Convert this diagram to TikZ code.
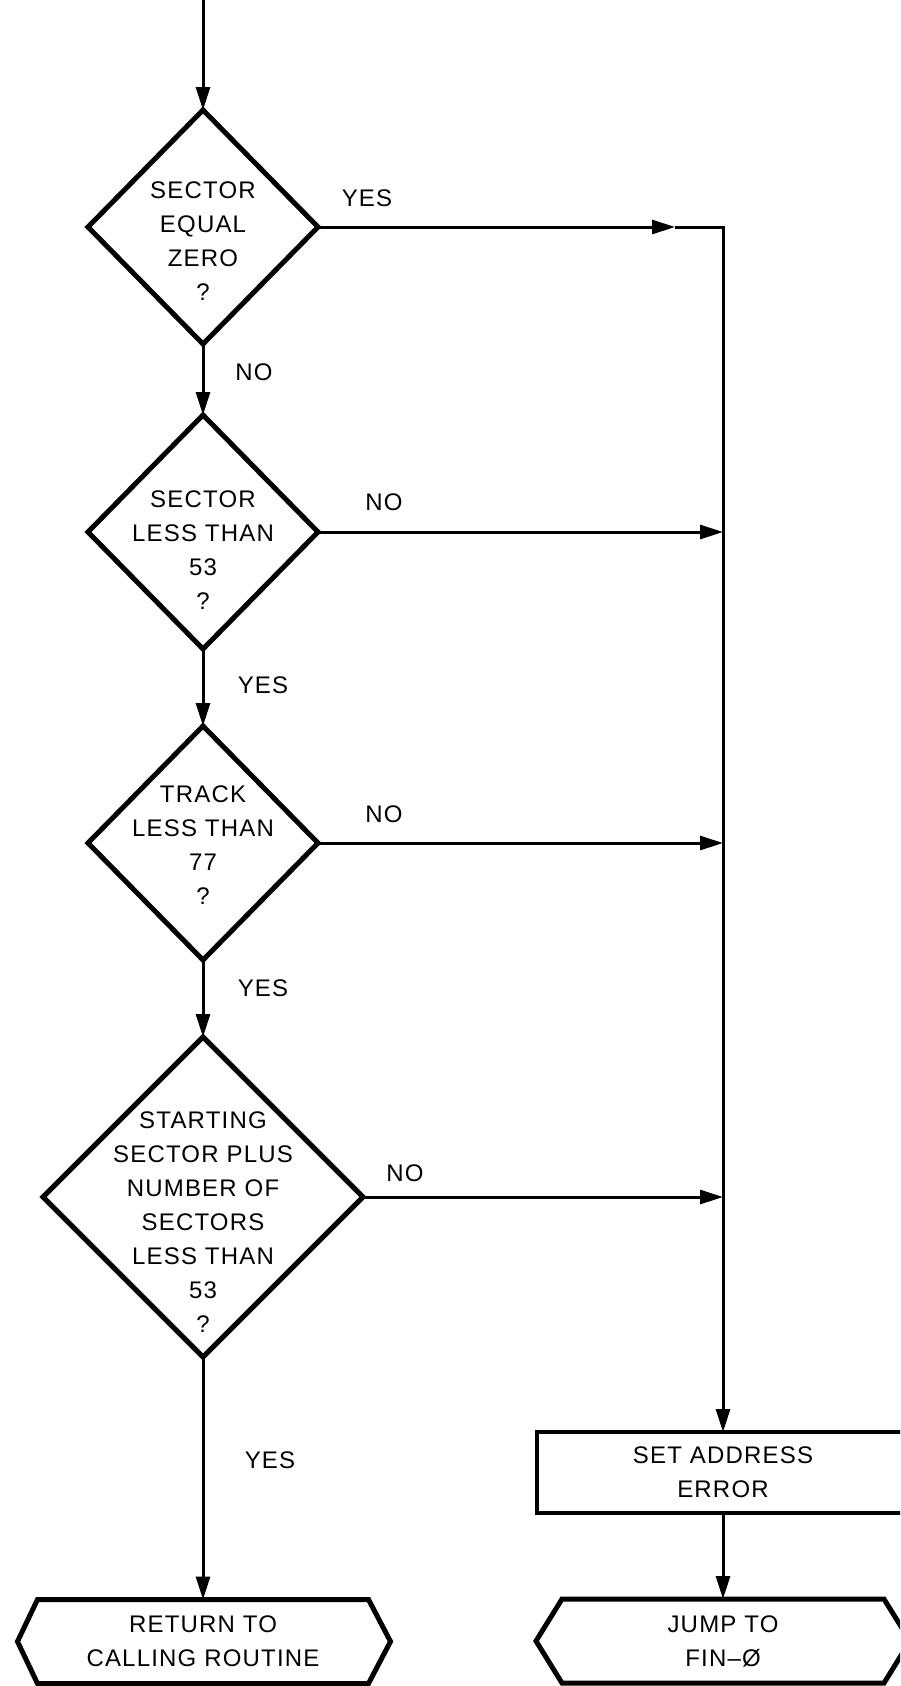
\documentclass[tikz,border=0pt]{standalone}
\usepackage{fontspec}
\setmainfont{Liberation Sans}[LetterSpace=5]
\usetikzlibrary{shapes.geometric,arrows.meta}
\begin{document}
\begin{tikzpicture}[x=1pt,y=-1pt,
  every node/.style={font=\fontsize{24}{34}\selectfont, inner sep=0pt, outer sep=0pt},
  dia/.style={diamond, draw, line width=5pt, minimum width=230pt, minimum height=234pt},
  bigdia/.style={dia, minimum width=320pt, minimum height=320pt},
  txt/.style={align=center, anchor=north},
  body/.style={align=center},
  shp/.style={line width=5pt, line join=miter},
  conn/.style={line width=3pt},
  arr/.style={conn, -{Triangle[length=23pt,width=14pt]}}
]
\useasboundingbox (0,0) rectangle (900,1686);
\clip (0,0) rectangle (900,1686);
\fill[white] (0,0) rectangle (900,1686);

% decisions
\node[dia] (d1) at (203,227) {};
\node[txt] (t1) at (203,181.5) {SECTOR\\EQUAL\\ZERO\\?};
\node[dia] (d2) at (203,532) {};
\node[txt] (t2) at (203,490.5) {SECTOR\\LESS THAN\\53\\?};
\node[dia] (d3) at (203,843) {};
\node[txt] (t3) at (203,785.5) {TRACK\\LESS THAN\\77\\?};
\node[bigdia] (d4) at (203,1197) {};
\node[txt] (t4) at (203,1111.5) {STARTING\\SECTOR PLUS\\NUMBER OF\\SECTORS\\LESS THAN\\53\\?};

% process box
\node[draw, line width=4.5pt, minimum width=372pt, minimum height=81pt, align=center] (err) at (723,1472.5) {SET ADDRESS\\ERROR};

% terminals
\node[body, minimum width=331pt, minimum height=84pt] (ret) at (203,1641.5) {RETURN TO\\CALLING ROUTINE};
\draw[shp] (ret.north west) -- (ret.north east) -- ([xshift=22pt]ret.east) -- (ret.south east) -- (ret.south west) -- ([xshift=-20pt]ret.west) -- cycle;
\node[body, minimum width=322pt, minimum height=84pt] (jmp) at (723,1641) {JUMP TO\\FIN–Ø};
\draw[shp] (jmp.north west) -- (jmp.north east) -- ([xshift=26pt]jmp.east) -- (jmp.south east) -- (jmp.south west) -- ([xshift=-26pt]jmp.west) -- cycle;

% labels
\node (y1) at (367,198) {YES};
\node (n1) at (254,372) {NO};
\node (n2) at (384,502) {NO};
\node (y2) at (263,685) {YES};
\node (n3) at (384,814) {NO};
\node (y3) at (263,988) {YES};
\node (n4) at (405,1173) {NO};
\node (y4) at (270,1460) {YES};

% connectors
\coordinate (top) at (203,0);
\draw[arr] (top) -- (d1.north);
\draw[arr] (d1.south) -- (d2.north);
\draw[arr] (d2.south) -- (d3.north);
\draw[arr] (d3.south) -- (d4.north);
\draw[arr] (d4.south) -- (ret.north -| d4.south);
\coordinate (c1) at (err.north |- d1.east);
\path (c1) ++(-48,0) coordinate (m1);
\draw[arr] (d1.east) -- (m1);
\draw[arr, line join=miter] (m1) -- (c1) -- (err.north);
\draw[arr] (d2.east) -- (d2.east -| err.north);
\draw[arr] (d3.east) -- (d3.east -| err.north);
\draw[arr] (d4.east) -- (d4.east -| err.north);
\draw[arr] (err.south) -- (jmp.north);
\end{tikzpicture}
\end{document}
